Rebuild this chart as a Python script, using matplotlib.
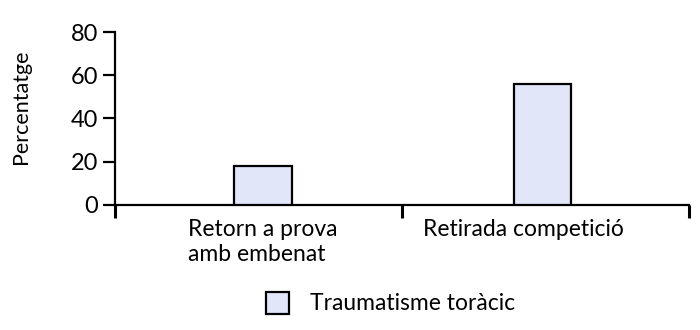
import numpy as np
import matplotlib.pyplot as plt

plt.rcParams['font.family'] = ['Lato', 'DejaVu Sans']

categories = ['Retorn a prova\namb embenat', 'Retirada competició']
values = [18, 56]
series_name = 'Traumatisme toràcic'
yticks = [0, 20, 40, 60, 80]

fig = plt.figure(figsize=(7, 3.3), dpi=100)
ax = fig.add_axes([0.164, 0.379, 0.82, 0.524])

x = np.arange(len(categories))
ax.bar(x + np.array([0.016, -0.009]), values, width=0.2, color='#e1e7f9',
       edgecolor='black', linewidth=1.6, label=series_name, zorder=3)

ax.set_xlim(-0.5, len(categories) - 0.5)
ax.set_ylim(0, 80)
ax.set_yticks(yticks)
ax.tick_params(axis='y', labelsize=17, length=9, width=1.6, pad=3)

# category separators as ticks, labels as minor ticks
ax.set_xticks(np.arange(len(categories) + 1) - 0.5)
ax.set_xticklabels([])
ax.tick_params(axis='x', which='major', length=9, width=2.2, direction='out')
ax.set_xticks(x + np.array([0.015, -0.075]), minor=True)
ax.set_xticklabels(categories, minor=True, fontsize=16.5, linespacing=1.25)
ax.tick_params(axis='x', which='minor', length=0, pad=10)
for lbl in ax.get_xticklabels(minor=True):
    lbl.set_multialignment('left')

ax.set_ylabel('Percentatge', fontsize=15.5)
ax.yaxis.set_label_coords(-0.146, 0.566)

for s in ['top', 'right']:
    ax.spines[s].set_visible(False)
for s in ['left', 'bottom']:
    ax.spines[s].set_linewidth(1.6)

fig.legend(loc='center', bbox_to_anchor=(0.558, 0.082), frameon=False,
           fontsize=16.5, handlelength=1.0, handleheight=1.1, handletextpad=0.9)

fig.savefig('out.png', dpi=100)
